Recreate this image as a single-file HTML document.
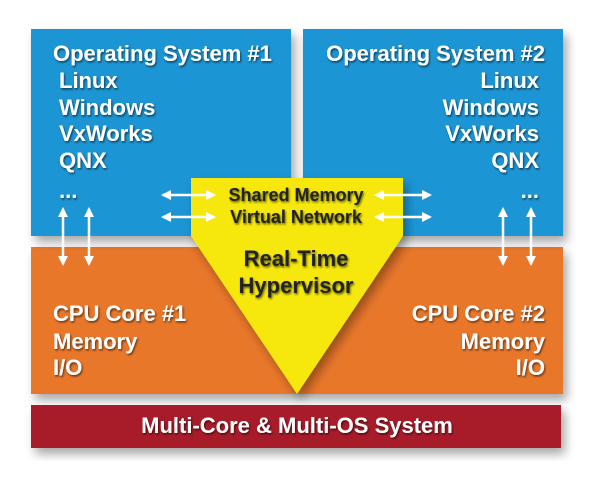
<!DOCTYPE html>
<html><head><style>
html,body{margin:0;padding:0;background:#fff;}
svg text{font-family:"Liberation Sans",sans-serif;font-weight:bold;}
</style></head><body>
<svg width="600" height="490" viewBox="0 0 600 490" xmlns="http://www.w3.org/2000/svg">
<defs>
<filter id="sh" x="-10%" y="-10%" width="130%" height="140%"><feGaussianBlur in="SourceAlpha" stdDeviation="5"/><feOffset dx="4" dy="6"/><feComponentTransfer><feFuncA type="linear" slope="0.35"/></feComponentTransfer><feMerge><feMergeNode/><feMergeNode in="SourceGraphic"/></feMerge></filter>
<filter id="ts"><feGaussianBlur in="SourceAlpha" stdDeviation="1"/><feOffset dx="1" dy="1.5"/><feComponentTransfer><feFuncA type="linear" slope="0.6"/></feComponentTransfer><feMerge><feMergeNode/><feMergeNode in="SourceGraphic"/></feMerge></filter>
<marker id="ah" viewBox="0 0 10 10" refX="8" refY="5" markerWidth="4" markerHeight="4" orient="auto-start-reverse"><path d="M0,0 L10,5 L0,10 z" fill="#fff"/></marker>
</defs>
<rect x="31" y="247" width="532" height="147" fill="#e8772a" filter="url(#sh)"/>
<rect x="31" y="29" width="260" height="207" fill="#1e95d4" filter="url(#sh)"/>
<rect x="303" y="29" width="260" height="207" fill="#1e95d4" filter="url(#sh)"/>
<rect x="31" y="405" width="530" height="43" fill="#a81c2c" filter="url(#sh)"/>
<polygon points="191,178 403,178 403,236 297,394 191,236" fill="#f6e80c" filter="url(#sh)"/>
<g stroke="#fff" stroke-width="2.5" marker-start="url(#ah)" marker-end="url(#ah)">
<line x1="163" y1="195" x2="214" y2="195"/><line x1="163" y1="217" x2="214" y2="217"/>
<line x1="376" y1="195" x2="430" y2="195"/><line x1="376" y1="217" x2="430" y2="217"/>
<line x1="63" y1="209" x2="63" y2="264"/><line x1="89" y1="209" x2="89" y2="264"/>
<line x1="503" y1="209" x2="503" y2="264"/><line x1="531" y1="209" x2="531" y2="264"/>
</g>
<g fill="#fff" font-size="22" filter="url(#ts)">
<text x="53" y="61">Operating System #1</text>
<text x="59" y="88">Linux</text>
<text x="59" y="115">Windows</text>
<text x="59" y="141">VxWorks</text>
<text x="59" y="168">QNX</text>
<text x="59" y="198">...</text>
<g text-anchor="end">
<text x="545" y="61">Operating System #2</text>
<text x="539" y="88">Linux</text>
<text x="539" y="115">Windows</text>
<text x="539" y="141">VxWorks</text>
<text x="539" y="168">QNX</text>
<text x="539" y="198">...</text>
<text x="545" y="321">CPU Core #2</text>
<text x="545" y="349">Memory</text>
<text x="545" y="375">I/O</text>
</g>
<text x="53" y="321">CPU Core #1</text>
<text x="53" y="349">Memory</text>
<text x="53" y="375">I/O</text>
<text x="297" y="433" text-anchor="middle" font-size="22">Multi-Core &amp; Multi-OS System</text>
</g>
<g fill="#222" text-anchor="middle" filter="url(#ts)">
<text x="296" y="201" font-size="18">Shared Memory</text>
<text x="296" y="223" font-size="18">Virtual Network</text>
<text x="296" y="266" font-size="22">Real-Time</text>
<text x="296" y="293" font-size="22">Hypervisor</text>
</g>
</svg>
</body></html>
